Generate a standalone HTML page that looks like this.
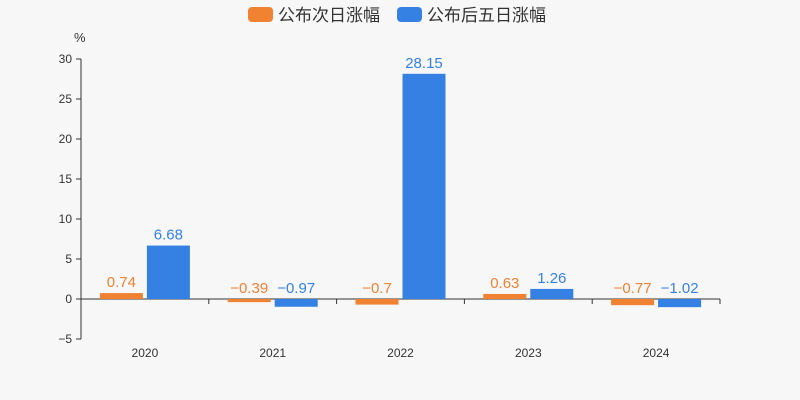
<!DOCTYPE html>
<html><head><meta charset="utf-8"><style>
body{margin:0;background:#f7f7f7;}
svg{display:block;font-family:"Liberation Sans","Noto Sans CJK SC",sans-serif;}
</style></head><body>
<svg id="chart" width="800" height="400">
<rect width="800" height="400" fill="#f7f7f7"/>
<g>
<g><rect x="248" y="7" width="25" height="15" rx="4" fill="#f08232"/><text x="278" y="21" font-size="17" fill="#333">公布次日涨幅</text></g>
<g><rect x="397" y="7" width="25" height="15" rx="4" fill="#3581e3"/><text x="427" y="21" font-size="17" fill="#333">公布后五日涨幅</text></g>
</g>
<text x="74" y="42" font-size="13" fill="#333">%</text>
<g id="axes"></g><g id="bars"></g>
</svg>
<script>
const categories=["2020","2021","2022","2023","2024"];
const nextDay=[0.74,-0.39,-0.7,0.63,-0.77];
const fiveDay=[6.68,-0.97,28.15,1.26,-1.02];
const yTicks=[-5,0,5,10,15,20,25,30];
const NS="http://www.w3.org/2000/svg";
const x0=81,x1=720,yMin=-5,yMax=30,yTop=59,yBot=339;
const y=v=>yBot-(v-yMin)/(yMax-yMin)*(yBot-yTop);
const band=(x1-x0)/categories.length;
const cx=i=>x0+band*(i+0.5);
function mk(tag,attrs,parent,txt){const e=document.createElementNS(NS,tag);for(const k in attrs)e.setAttribute(k,attrs[k]);if(txt!==undefined)e.textContent=txt;parent.appendChild(e);return e;}
const ax=document.getElementById('axes'),bg=document.getElementById('bars');
const yl=mk('line',{x1:x0,x2:x0,y1:yTop,y2:yBot,stroke:'#333'},ax);


yTicks.forEach(t=>{
 const tk=mk('line',{x1:x0-5,x2:x0,y1:y(t),y2:y(t),stroke:'#333'},ax);
 
 
 const lb=mk('text',{x:x0-9,y:y(t)+4,'text-anchor':'end','font-size':12,fill:'#333'},ax,t<0?'\u2212'+Math.abs(t):String(t));
 
 
});
const xl=mk('line',{x1:x0,x2:x1,y1:y(0),y2:y(0),stroke:'#333'},ax);


for(let i=0;i<=categories.length;i++){
 const tk=mk('line',{x1:x0+band*i,x2:x0+band*i,y1:y(0),y2:y(0)+5,stroke:'#333'},ax);
 
 
}
const fmt=v=>v<0?'\u2212'+Math.abs(v):String(v);
categories.forEach((c,i)=>{
 const lb=mk('text',{x:cx(i),y:357,'text-anchor':'middle','font-size':12,fill:'#333'},ax,c);
 
 
 [[nextDay[i],'#f08232',-45],[fiveDay[i],'#3581e3',2]].forEach(([v,col,off],s)=>{
  const top=Math.min(y(v),y(0)),h=Math.max(Math.abs(y(v)-y(0)),1);
  const r=mk('rect',{x:cx(i)+off,y:top,width:43,height:h,fill:col},bg);
  
  
  const t=mk('text',{x:cx(i)+off+21.5,y:y(Math.max(v,0))-6,'text-anchor':'middle','font-size':15,fill:col},bg,fmt(v));
  
  
 });
});
</script>
</body></html>
